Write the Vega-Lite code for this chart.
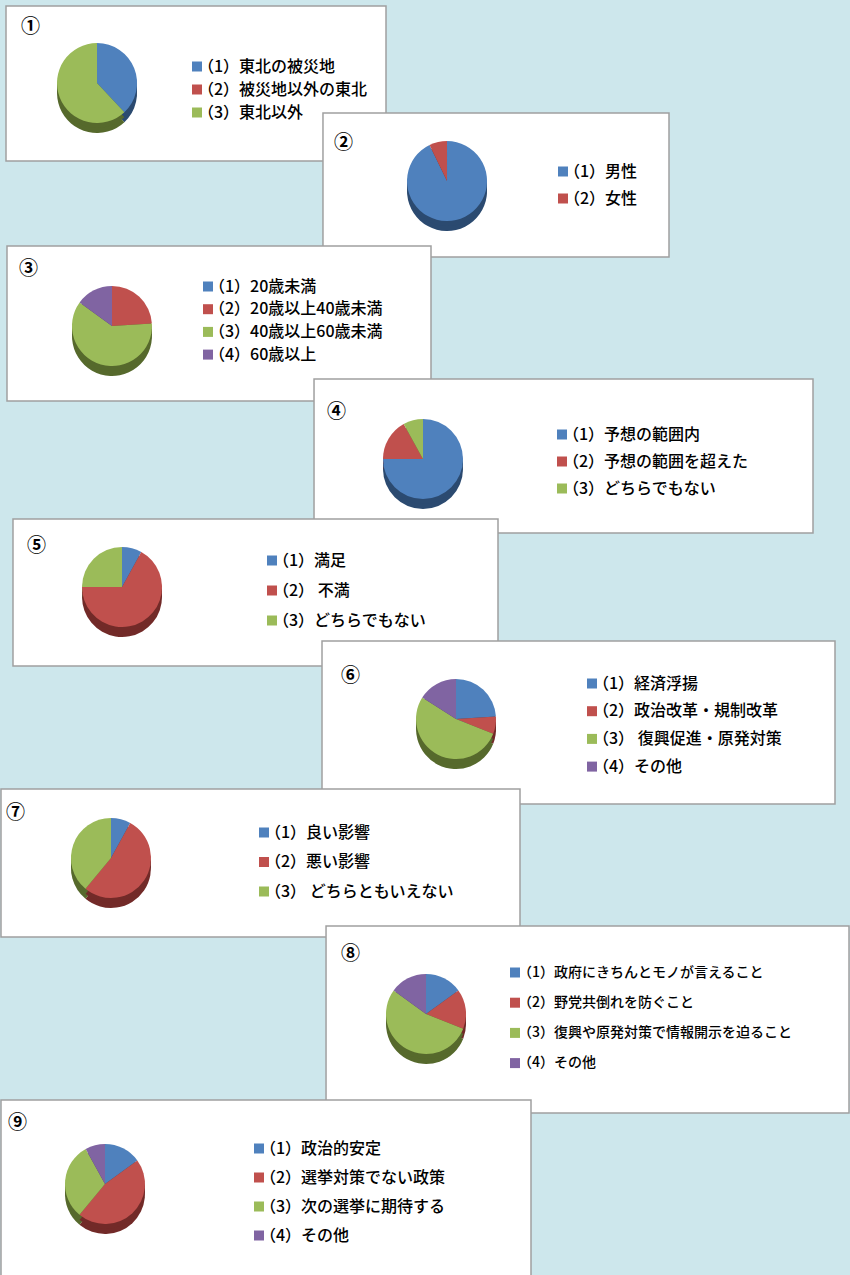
{
  "$schema": "https://vega.github.io/schema/vega-lite/v6.json",
  "background": "#cde7ec",
  "padding": {"left": 0, "top": 5, "right": 2, "bottom": 0},
  "config": {
    "view": {"stroke": null},
    "font": "Noto Sans CJK JP",
    "title": {"anchor": "start", "frame": "group", "fontSize": 19, "fontWeight": "bold", "color": "#000", "font": "Noto Sans CJK JP"},
    "legend": {"symbolType": "square", "symbolSize": 100, "symbolStrokeWidth": 0, "labelFontSize": 16, "labelFontWeight": 500, "labelFont": "Noto Sans CJK JP", "labelColor": "#000", "labelOffset": -7, "labelLimit": 0, "orient": "none"},
    "arc": {"radius": 40},
    "rect": {"fill": "white", "stroke": "#a0a0a0", "strokeWidth": 1.5}
  },
  "spacing": 0,
  "bounds": "flush",
  "resolve": {"scale": {"color": "independent", "fill": "independent", "x": "independent", "y": "independent", "theta": "independent"}, "legend": {"color": "independent", "fill": "independent"}},
  "vconcat": [
    {
      "width": 385, "height": 107,
      "title": {"text": "①", "offset": -32, "dx": 20},
      "layer": [
        {"data": {"values": [{}]}, "mark": "rect", "encoding": {
          "x": {"datum": 0.013, "type": "quantitative", "scale": {"domain": [0, 1]}, "axis": null}, "x2": {"datum": 1},
          "y": {"datum": 0, "type": "quantitative", "scale": {"domain": [0, 1], "reverse": true}, "axis": null}, "y2": {"datum": 1.4486}}},
        {
          "data": {"values": [{"k": "（1）東北の被災地", "v": 38, "i": 1}, {"k": "（2）被災地以外の東北", "v": 0, "i": 2}, {"k": "（3）東北以外", "v": 62, "i": 3}]},
          "encoding": {
            "theta": {"field": "v", "type": "quantitative", "stack": true},
            "order": {"field": "i", "type": "quantitative"},
            "x": {"datum": 0.2494, "type": "quantitative", "scale": {"domain": [0, 1]}, "axis": null},
            "y": {"datum": 0.7196, "type": "quantitative", "scale": {"domain": [0, 1], "reverse": true}, "axis": null}
          },
          "layer": [
            {"mark": {"type": "arc", "yOffset": 10}, "encoding": {"fill": {"field": "k", "type": "nominal", "scale": {"range": ["#2b4a70", "#722a28", "#56692c", "#4b3a60"]}, "legend": null}}},
            {"mark": {"type": "arc", "yOffset": 5}, "encoding": {"fill": {"field": "k", "type": "nominal", "legend": null}}},
            {"mark": {"type": "arc"}, "encoding": {"color": {"field": "k", "type": "nominal", "title": null, "scale": {"range": ["#4f81bd", "#c0504d", "#9bbb59", "#8064a2"]}, "legend": {"legendX": 188, "legendY": 52.5, "rowPadding": 7}}}}
          ]
        }
      ]
    },
    {
      "width": 668, "height": 133,
      "title": {"text": "②", "offset": -41, "dx": 333},
      "layer": [
        {"data": {"values": [{}]}, "mark": "rect", "encoding": {
          "x": {"datum": 0.482, "type": "quantitative", "scale": {"domain": [0, 1]}, "axis": null}, "x2": {"datum": 1},
          "y": {"datum": 0, "type": "quantitative", "scale": {"domain": [0, 1], "reverse": true}, "axis": null}, "y2": {"datum": 1.0827}}},
        {
          "data": {"values": [{"k": "（1）男性", "v": 92.8, "i": 1}, {"k": "（2）女性", "v": 7.2, "i": 2}]},
          "encoding": {
            "theta": {"field": "v", "type": "quantitative", "stack": true},
            "order": {"field": "i", "type": "quantitative"},
            "x": {"datum": 0.6677, "type": "quantitative", "scale": {"domain": [0, 1]}, "axis": null},
            "y": {"datum": 0.5113, "type": "quantitative", "scale": {"domain": [0, 1], "reverse": true}, "axis": null}
          },
          "layer": [
            {"mark": {"type": "arc", "yOffset": 10}, "encoding": {"fill": {"field": "k", "type": "nominal", "scale": {"range": ["#2b4a70", "#722a28", "#56692c", "#4b3a60"]}, "legend": null}}},
            {"mark": {"type": "arc", "yOffset": 5}, "encoding": {"fill": {"field": "k", "type": "nominal", "legend": null}}},
            {"mark": {"type": "arc"}, "encoding": {"color": {"field": "k", "type": "nominal", "title": null, "scale": {"range": ["#4f81bd", "#c0504d", "#9bbb59", "#8064a2"]}, "legend": {"legendX": 554, "legendY": 50.5, "rowPadding": 11}}}}
          ]
        }
      ]
    },
    {
      "width": 430, "height": 133,
      "title": {"text": "③", "offset": -33.5, "dx": 18},
      "layer": [
        {"data": {"values": [{}]}, "mark": "rect", "encoding": {
          "x": {"datum": 0.01395, "type": "quantitative", "scale": {"domain": [0, 1]}, "axis": null}, "x2": {"datum": 1},
          "y": {"datum": 0, "type": "quantitative", "scale": {"domain": [0, 1], "reverse": true}, "axis": null}, "y2": {"datum": 1.1654}}},
        {
          "data": {"values": [{"k": "（1）20歳未満", "v": 0, "i": 1}, {"k": "（2）20歳以上40歳未満", "v": 24, "i": 2}, {"k": "（3）40歳以上60歳未満", "v": 61, "i": 3}, {"k": "（4）60歳以上", "v": 15, "i": 4}]},
          "encoding": {
            "theta": {"field": "v", "type": "quantitative", "stack": true},
            "order": {"field": "i", "type": "quantitative"},
            "x": {"datum": 0.2581, "type": "quantitative", "scale": {"domain": [0, 1]}, "axis": null},
            "y": {"datum": 0.6015, "type": "quantitative", "scale": {"domain": [0, 1], "reverse": true}, "axis": null}
          },
          "layer": [
            {"mark": {"type": "arc", "yOffset": 10}, "encoding": {"fill": {"field": "k", "type": "nominal", "scale": {"range": ["#2b4a70", "#722a28", "#56692c", "#4b3a60"]}, "legend": null}}},
            {"mark": {"type": "arc", "yOffset": 5}, "encoding": {"fill": {"field": "k", "type": "nominal", "legend": null}}},
            {"mark": {"type": "arc"}, "encoding": {"color": {"field": "k", "type": "nominal", "title": null, "scale": {"range": ["#4f81bd", "#c0504d", "#9bbb59", "#8064a2"]}, "legend": {"legendX": 199, "legendY": 32.5, "rowPadding": 6.7}}}}
          ]
        }
      ]
    },
    {
      "width": 812, "height": 140,
      "title": {"text": "④", "offset": -43.5, "dx": 326},
      "layer": [
        {"data": {"values": [{}]}, "mark": "rect", "encoding": {
          "x": {"datum": 0.3855, "type": "quantitative", "scale": {"domain": [0, 1]}, "axis": null}, "x2": {"datum": 1},
          "y": {"datum": 0, "type": "quantitative", "scale": {"domain": [0, 1], "reverse": true}, "axis": null}, "y2": {"datum": 1.1}}},
        {
          "data": {"values": [{"k": "（1）予想の範囲内", "v": 75, "i": 1}, {"k": "（2）予想の範囲を超えた", "v": 17, "i": 2}, {"k": "（3）どちらでもない", "v": 8, "i": 3}]},
          "encoding": {
            "theta": {"field": "v", "type": "quantitative", "stack": true},
            "order": {"field": "i", "type": "quantitative"},
            "x": {"datum": 0.5197, "type": "quantitative", "scale": {"domain": [0, 1]}, "axis": null},
            "y": {"datum": 0.5714, "type": "quantitative", "scale": {"domain": [0, 1], "reverse": true}, "axis": null}
          },
          "layer": [
            {"mark": {"type": "arc", "yOffset": 10}, "encoding": {"fill": {"field": "k", "type": "nominal", "scale": {"range": ["#2b4a70", "#722a28", "#56692c", "#4b3a60"]}, "legend": null}}},
            {"mark": {"type": "arc", "yOffset": 5}, "encoding": {"fill": {"field": "k", "type": "nominal", "legend": null}}},
            {"mark": {"type": "arc"}, "encoding": {"color": {"field": "k", "type": "nominal", "title": null, "scale": {"range": ["#4f81bd", "#c0504d", "#9bbb59", "#8064a2"]}, "legend": {"legendX": 553, "legendY": 47.5, "rowPadding": 11}}}}
          ]
        }
      ]
    },
    {
      "width": 497, "height": 122,
      "title": {"text": "⑤", "offset": -37.5, "dx": 26},
      "layer": [
        {"data": {"values": [{}]}, "mark": "rect", "encoding": {
          "x": {"datum": 0.02414, "type": "quantitative", "scale": {"domain": [0, 1]}, "axis": null}, "x2": {"datum": 1},
          "y": {"datum": 0, "type": "quantitative", "scale": {"domain": [0, 1], "reverse": true}, "axis": null}, "y2": {"datum": 1.2049}}},
        {
          "data": {"values": [{"k": "（1）満足", "v": 8, "i": 1}, {"k": "（2） 不満", "v": 67, "i": 2}, {"k": "（3）どちらでもない", "v": 25, "i": 3}]},
          "encoding": {
            "theta": {"field": "v", "type": "quantitative", "stack": true},
            "order": {"field": "i", "type": "quantitative"},
            "x": {"datum": 0.2435, "type": "quantitative", "scale": {"domain": [0, 1]}, "axis": null},
            "y": {"datum": 0.5574, "type": "quantitative", "scale": {"domain": [0, 1], "reverse": true}, "axis": null}
          },
          "layer": [
            {"mark": {"type": "arc", "yOffset": 10}, "encoding": {"fill": {"field": "k", "type": "nominal", "scale": {"range": ["#2b4a70", "#722a28", "#56692c", "#4b3a60"]}, "legend": null}}},
            {"mark": {"type": "arc", "yOffset": 5}, "encoding": {"fill": {"field": "k", "type": "nominal", "legend": null}}},
            {"mark": {"type": "arc"}, "encoding": {"color": {"field": "k", "type": "nominal", "title": null, "scale": {"range": ["#4f81bd", "#c0504d", "#9bbb59", "#8064a2"]}, "legend": {"legendX": 263, "legendY": 33.5, "rowPadding": 14}}}}
          ]
        }
      ]
    },
    {
      "width": 834, "height": 148,
      "title": {"text": "⑥", "offset": -45.5, "dx": 340},
      "layer": [
        {"data": {"values": [{}]}, "mark": "rect", "encoding": {
          "x": {"datum": 0.3849, "type": "quantitative", "scale": {"domain": [0, 1]}, "axis": null}, "x2": {"datum": 1},
          "y": {"datum": 0, "type": "quantitative", "scale": {"domain": [0, 1], "reverse": true}, "axis": null}, "y2": {"datum": 1.1014}}},
        {
          "data": {"values": [{"k": "（1）経済浮揚", "v": 24, "i": 1}, {"k": "（2）政治改革・規制改革", "v": 7, "i": 2}, {"k": "（3） 復興促進・原発対策", "v": 53, "i": 3}, {"k": "（4）その他", "v": 16, "i": 4}]},
          "encoding": {
            "theta": {"field": "v", "type": "quantitative", "stack": true},
            "order": {"field": "i", "type": "quantitative"},
            "x": {"datum": 0.5456, "type": "quantitative", "scale": {"domain": [0, 1]}, "axis": null},
            "y": {"datum": 0.527, "type": "quantitative", "scale": {"domain": [0, 1], "reverse": true}, "axis": null}
          },
          "layer": [
            {"mark": {"type": "arc", "yOffset": 10}, "encoding": {"fill": {"field": "k", "type": "nominal", "scale": {"range": ["#2b4a70", "#722a28", "#56692c", "#4b3a60"]}, "legend": null}}},
            {"mark": {"type": "arc", "yOffset": 5}, "encoding": {"fill": {"field": "k", "type": "nominal", "legend": null}}},
            {"mark": {"type": "arc"}, "encoding": {"color": {"field": "k", "type": "nominal", "title": null, "scale": {"range": ["#4f81bd", "#c0504d", "#9bbb59", "#8064a2"]}, "legend": {"legendX": 583, "legendY": 34.5, "rowPadding": 11.7}}}}
          ]
        }
      ]
    },
    {
      "width": 519, "height": 137,
      "title": {"text": "⑦", "offset": -35, "dx": 5},
      "layer": [
        {"data": {"values": [{}]}, "mark": "rect", "encoding": {
          "x": {"datum": 0, "type": "quantitative", "scale": {"domain": [0, 1]}, "axis": null}, "x2": {"datum": 1},
          "y": {"datum": 0, "type": "quantitative", "scale": {"domain": [0, 1], "reverse": true}, "axis": null}, "y2": {"datum": 1.0803}}},
        {
          "data": {"values": [{"k": "（1）良い影響", "v": 8, "i": 1}, {"k": "（2）悪い影響", "v": 53, "i": 2}, {"k": "（3） どちらともいえない", "v": 39, "i": 3}]},
          "encoding": {
            "theta": {"field": "v", "type": "quantitative", "stack": true},
            "order": {"field": "i", "type": "quantitative"},
            "x": {"datum": 0.2119, "type": "quantitative", "scale": {"domain": [0, 1]}, "axis": null},
            "y": {"datum": 0.5036, "type": "quantitative", "scale": {"domain": [0, 1], "reverse": true}, "axis": null}
          },
          "layer": [
            {"mark": {"type": "arc", "yOffset": 10}, "encoding": {"fill": {"field": "k", "type": "nominal", "scale": {"range": ["#2b4a70", "#722a28", "#56692c", "#4b3a60"]}, "legend": null}}},
            {"mark": {"type": "arc", "yOffset": 5}, "encoding": {"fill": {"field": "k", "type": "nominal", "legend": null}}},
            {"mark": {"type": "arc"}, "encoding": {"color": {"field": "k", "type": "nominal", "title": null, "scale": {"range": ["#4f81bd", "#c0504d", "#9bbb59", "#8064a2"]}, "legend": {"legendX": 255, "legendY": 35.5, "rowPadding": 13.5}}}}
          ]
        }
      ]
    },
    {
      "width": 848, "height": 174,
      "title": {"text": "⑧", "offset": -38.5, "dx": 340},
      "layer": [
        {"data": {"values": [{}]}, "mark": "rect", "encoding": {
          "x": {"datum": 0.3833, "type": "quantitative", "scale": {"domain": [0, 1]}, "axis": null}, "x2": {"datum": 1},
          "y": {"datum": 0, "type": "quantitative", "scale": {"domain": [0, 1], "reverse": true}, "axis": null}, "y2": {"datum": 1.0747}}},
        {
          "data": {"values": [{"k": "（1）政府にきちんとモノが言えること", "v": 15, "i": 1}, {"k": "（2）野党共倒れを防ぐこと", "v": 16, "i": 2}, {"k": "（3）復興や原発対策で情報開示を迫ること", "v": 54, "i": 3}, {"k": "（4）その他", "v": 15, "i": 4}]},
          "encoding": {
            "theta": {"field": "v", "type": "quantitative", "stack": true},
            "order": {"field": "i", "type": "quantitative"},
            "x": {"datum": 0.5012, "type": "quantitative", "scale": {"domain": [0, 1]}, "axis": null},
            "y": {"datum": 0.5057, "type": "quantitative", "scale": {"domain": [0, 1], "reverse": true}, "axis": null}
          },
          "layer": [
            {"mark": {"type": "arc", "yOffset": 10}, "encoding": {"fill": {"field": "k", "type": "nominal", "scale": {"range": ["#2b4a70", "#722a28", "#56692c", "#4b3a60"]}, "legend": null}}},
            {"mark": {"type": "arc", "yOffset": 5}, "encoding": {"fill": {"field": "k", "type": "nominal", "legend": null}}},
            {"mark": {"type": "arc"}, "encoding": {"color": {"field": "k", "type": "nominal", "title": null, "scale": {"range": ["#4f81bd", "#c0504d", "#9bbb59", "#8064a2"]}, "legend": {"legendX": 507, "legendY": 39.5, "rowPadding": 16.2, "labelFontSize": 14, "labelOffset": -4}}}}
          ]
        }
      ]
    },
    {
      "width": 530, "height": 178,
      "title": {"text": "⑨", "offset": -34, "dx": 7},
      "layer": [
        {"data": {"values": [{}]}, "mark": "rect", "encoding": {
          "x": {"datum": 0, "type": "quantitative", "scale": {"domain": [0, 1]}, "axis": null}, "x2": {"datum": 1},
          "y": {"datum": 0, "type": "quantitative", "scale": {"domain": [0, 1], "reverse": true}, "axis": null}, "y2": {"datum": 1.02}}},
        {
          "data": {"values": [{"k": "（1）政治的安定", "v": 15, "i": 1}, {"k": "（2）選挙対策でない政策", "v": 46, "i": 2}, {"k": "（3）次の選挙に期待する", "v": 31, "i": 3}, {"k": "（4）その他", "v": 8, "i": 4}]},
          "encoding": {
            "theta": {"field": "v", "type": "quantitative", "stack": true},
            "order": {"field": "i", "type": "quantitative"},
            "x": {"datum": 0.1962, "type": "quantitative", "scale": {"domain": [0, 1]}, "axis": null},
            "y": {"datum": 0.4719, "type": "quantitative", "scale": {"domain": [0, 1], "reverse": true}, "axis": null}
          },
          "layer": [
            {"mark": {"type": "arc", "yOffset": 10}, "encoding": {"fill": {"field": "k", "type": "nominal", "scale": {"range": ["#2b4a70", "#722a28", "#56692c", "#4b3a60"]}, "legend": null}}},
            {"mark": {"type": "arc", "yOffset": 5}, "encoding": {"fill": {"field": "k", "type": "nominal", "legend": null}}},
            {"mark": {"type": "arc"}, "encoding": {"color": {"field": "k", "type": "nominal", "title": null, "scale": {"range": ["#4f81bd", "#c0504d", "#9bbb59", "#8064a2"]}, "legend": {"legendX": 250, "legendY": 40.5, "rowPadding": 13}}}}
          ]
        }
      ]
    }
  ]
}
